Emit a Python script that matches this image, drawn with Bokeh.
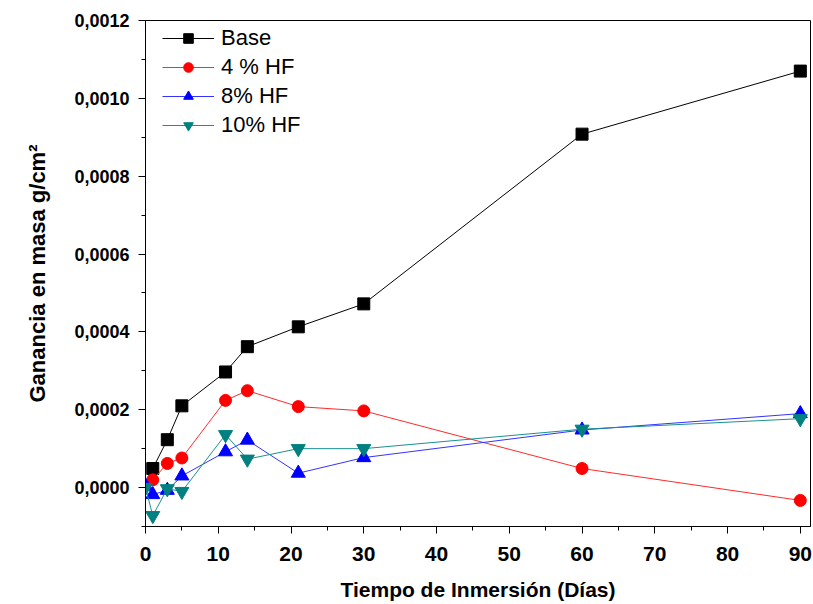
from bokeh.plotting import figure
from bokeh.models import FixedTicker, CustomJSTickFormatter, Range1d, Legend, LegendItem
from bokeh.embed import file_html
from bokeh.resources import INLINE

days_base = [1, 3, 5, 11, 14, 21, 30, 60, 90]
base = [0.000049, 0.000123, 0.00021, 0.000297, 0.000362, 0.000413, 0.000472, 0.000908, 0.00107]

days_4 = [1, 3, 5, 11, 14, 21, 30, 60, 90]
hf4 = [0.00002, 0.000062, 0.000076, 0.000224, 0.000249, 0.000208, 0.000197, 0.000049, -0.000033]

days_8 = [0, 1, 3, 5, 11, 14, 21, 30, 60, 90]
hf8 = [0.000005, -0.000018, -0.000007, 0.00003, 0.000092, 0.000122, 0.000037, 0.000077, 0.000148, 0.00019]

days_10 = [0, 1, 3, 5, 11, 14, 21, 30, 60, 90]
hf10 = [0.0, -0.000072, -0.000003, -0.00001, 0.000136, 0.000073, 0.0001, 0.0001, 0.00015, 0.000177]

y_major = [0.0, 0.0002, 0.0004, 0.0006, 0.0008, 0.0010, 0.0012]
y_minor = [-0.0001, 0.0001, 0.0003, 0.0005, 0.0007, 0.0009, 0.0011]
x_major = [0, 10, 20, 30, 40, 50, 60, 70, 80, 90]
x_minor = [5, 15, 25, 35, 45, 55, 65, 75, 85]

p = figure(width=813, height=604, output_backend="svg", toolbar_location=None,
           x_range=Range1d(0, 91.4), y_range=Range1d(-0.0001, 0.0012),
           min_border_left=145, min_border_right=3, min_border_top=20, min_border_bottom=78)
p.xgrid.visible = False
p.ygrid.visible = False
p.outline_line_color = "black"
p.outline_line_width = 1
p.background_fill_color = "white"
p.border_fill_color = "white"

FONT = "Liberation Sans"

p.yaxis.ticker = FixedTicker(ticks=y_major, minor_ticks=y_minor + y_major)
p.xaxis.ticker = FixedTicker(ticks=x_major, minor_ticks=x_minor + x_major)
p.yaxis.formatter = CustomJSTickFormatter(code="return tick.toFixed(4).replace('.', ',');")

for ax in (p.xaxis[0], p.yaxis[0]):
    ax.axis_line_color = "black"
    ax.major_tick_line_color = "black"
    ax.minor_tick_line_color = "black"
    ax.major_tick_out = 7
    ax.major_tick_in = 0
    ax.minor_tick_out = 4
    ax.minor_tick_in = 0
    ax.major_label_text_font = FONT
    ax.major_label_text_font_style = "bold"
    ax.major_label_text_font_size = "18px"
    ax.major_label_text_color = "black"
    ax.axis_label_text_font = FONT
    ax.axis_label_text_font_style = "bold"
    ax.axis_label_text_font_size = "21px"
    ax.axis_label_text_color = "black"

p.xaxis.major_label_text_font_size = "21px"
p.yaxis.axis_label_text_font_size = "22px"
p.xaxis.axis_label = "Tiempo de Inmersión (Días)"
p.yaxis.axis_label = "Ganancia en masa g/cm²"
p.xaxis.major_label_standoff = 13
p.yaxis.major_label_standoff = 9
p.xaxis.axis_label_standoff = 14
p.yaxis.axis_label_standoff = 21

items = []
series = [
    ("Base", days_base, base, "black", "black", "square", 12),
    ("4 % HF", days_4, hf4, "#ff0000", "#ff2a2a", "circle", 12),
    ("8% HF", days_8, hf8, "#0000ff", "#3333ff", "triangle", 14),
    ("10% HF", days_10, hf10, "#008080", "#1a9090", "inverted_triangle", 14),
]
for label, xs, ys, mcol, lcol, marker, size in series:
    l = p.line(xs, ys, line_color=lcol, line_width=1)
    s = p.scatter(xs, ys, marker=marker, size=size, fill_color=mcol, line_color=mcol)
    items.append(LegendItem(label=label, renderers=[l, s]))

legend = Legend(items=items, location=(13, 384))
legend.background_fill_alpha = 0
legend.border_line_alpha = 0
legend.label_text_font = FONT
legend.label_text_font_size = "22px"
legend.label_text_color = "black"
legend.glyph_width = 52
legend.glyph_height = 24
legend.label_height = 24
legend.spacing = 3
legend.label_standoff = 7
legend.padding = 4
legend.margin = 0
p.add_layout(legend)

open("out.html", "w").write(file_html(p, INLINE))
